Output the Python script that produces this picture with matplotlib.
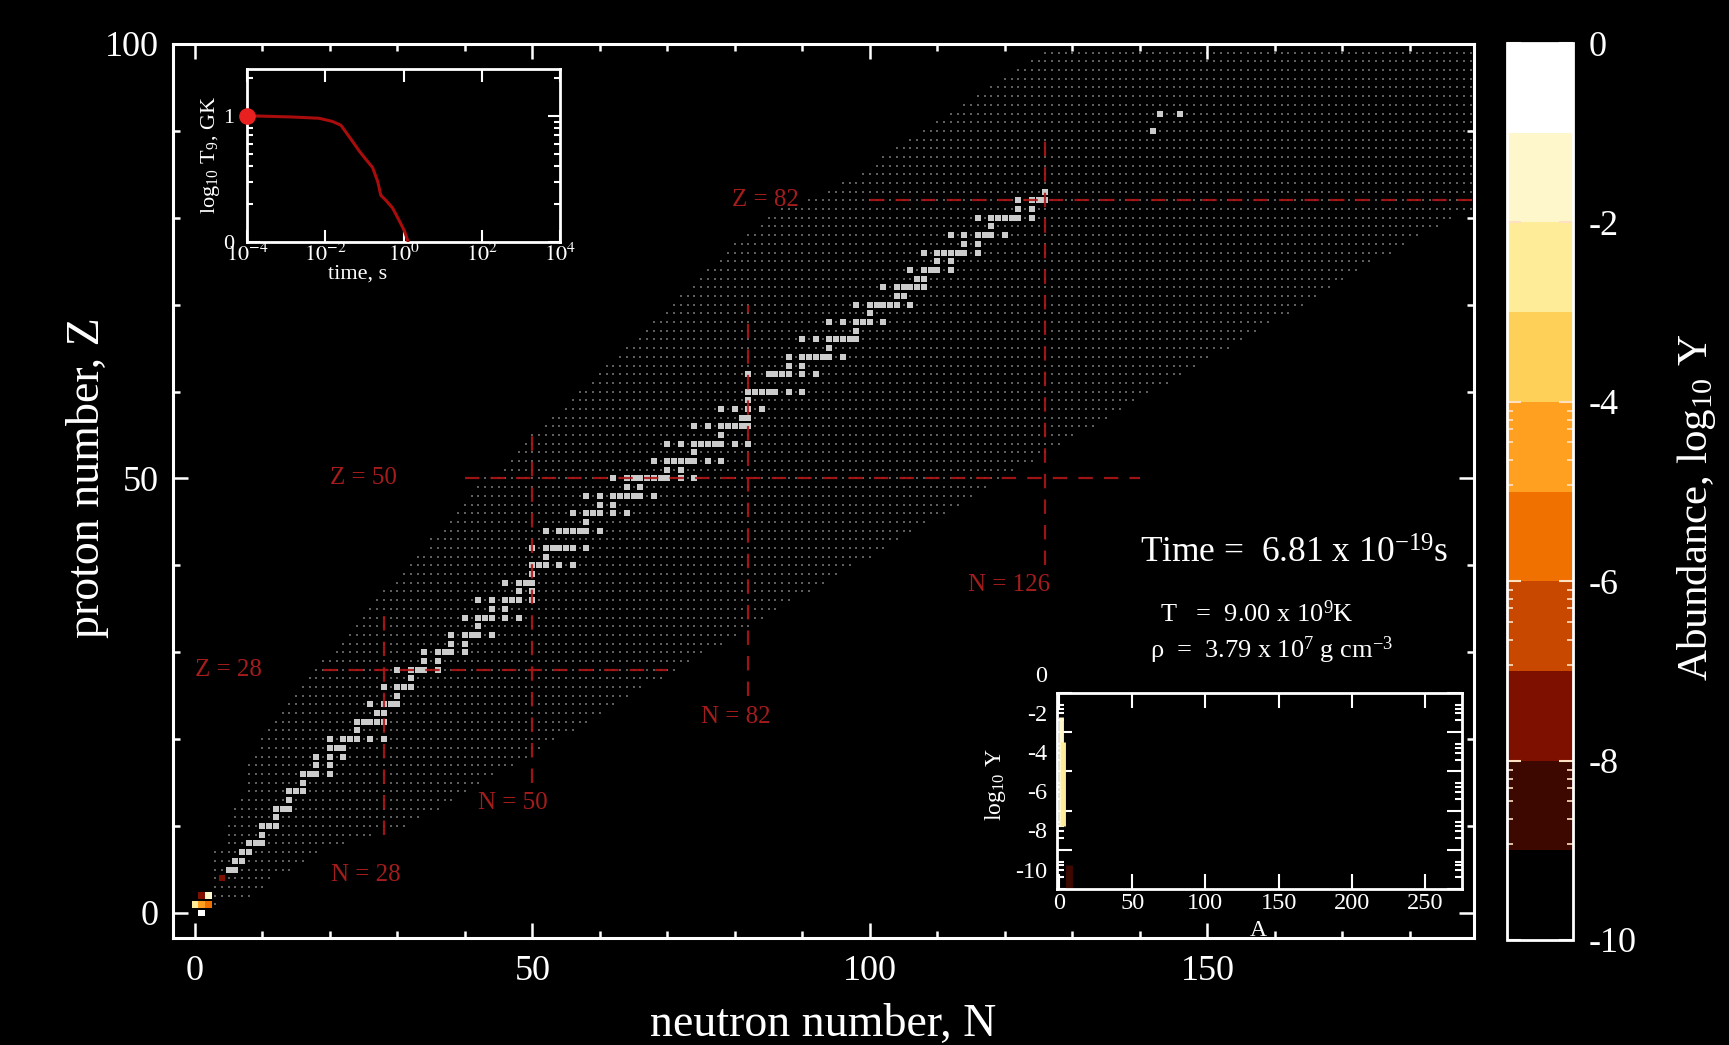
import numpy as np
import matplotlib
matplotlib.use('Agg')
import matplotlib.pyplot as plt
from matplotlib.colors import ListedColormap, BoundaryNorm
from matplotlib.cm import ScalarMappable
from matplotlib.ticker import FixedLocator, NullLocator
import matplotlib.transforms as mtransforms

plt.rcParams['font.family'] = ['Liberation Serif', 'DejaVu Serif']
plt.rcParams['mathtext.fontset'] = 'stix'
plt.rcParams['axes.unicode_minus'] = False

# ---------------- data ----------------
net_Z = list(range(0, 101))
net_Nmin = [1, 0, 1, 3, 3, 3, 3, 3, 5, 5,
            5, 6, 6, 7, 8, 8, 8, 8, 9, 10,
            10, 11, 12, 13, 14, 15, 16, 17, 18, 19,
            21, 22, 23, 24, 25, 26, 27, 28, 30, 31,
            32, 33, 35, 35, 37, 38, 39, 40, 41, 42,
            43, 46, 47, 48, 49, 50, 52, 53, 55, 56,
            57, 59, 60, 61, 63, 64, 66, 67, 68, 70,
            71, 72, 74, 75, 76, 78, 79, 80, 82, 84,
            85, 87, 91, 94, 96, 99, 101, 102, 104, 106,
            108, 110, 112, 114, 116, 118, 120, 122, 124, 126,
            128]
net_Nmax = [1, 3, 8, 10, 11, 14, 16, 18, 22, 26,
            31, 33, 36, 38, 40, 42, 44, 47, 49, 51,
            53, 56, 58, 60, 62, 64, 66, 69, 71, 73,
            75, 78, 80, 82, 84, 86, 88, 91, 93, 95,
            97, 100, 102, 104, 106, 108, 111, 113, 115, 117,
            119, 121, 124, 126, 128, 130, 133, 135, 137, 139,
            141, 144, 146, 148, 150, 153, 155, 157, 159, 162,
            164, 166, 168, 170, 172, 174, 177, 179, 181, 184,
            186, 189, 192, 192, 192, 192, 192, 192, 192, 192,
            192, 192, 192, 192, 192, 192, 192, 192, 192, 192,
            192]

stable_A = {
    1: [1, 2], 2: [3, 4], 5: [10, 11], 6: [12, 13], 7: [14, 15], 8: [16, 17, 18],
    9: [19], 10: [20, 21, 22], 11: [23], 12: [24, 25, 26], 13: [27], 14: [28, 29, 30],
    15: [31], 16: [32, 33, 34, 36], 17: [35, 37], 18: [36, 38, 40], 19: [39, 40, 41],
    20: [40, 42, 43, 44, 46, 48], 21: [45], 22: [46, 47, 48, 49, 50], 23: [50, 51],
    24: [50, 52, 53, 54], 25: [55], 26: [54, 56, 57, 58], 27: [59], 28: [58, 60, 61, 62, 64],
    29: [63, 65], 30: [64, 66, 67, 68, 70], 31: [69, 71], 32: [70, 72, 73, 74, 76], 33: [75],
    34: [74, 76, 77, 78, 80, 82], 35: [79, 81], 36: [78, 80, 82, 83, 84, 86], 37: [85, 87],
    38: [84, 86, 87, 88], 39: [89], 40: [90, 91, 92, 94, 96], 41: [93],
    42: [92, 94, 95, 96, 97, 98, 100], 44: [96, 98, 99, 100, 101, 102, 104], 45: [103],
    46: [102, 104, 105, 106, 108, 110], 47: [107, 109], 48: [106, 108, 110, 111, 112, 113, 114, 116],
    49: [113, 115], 50: [112, 114, 115, 116, 117, 118, 119, 120, 122, 124], 51: [121, 123],
    52: [120, 122, 123, 124, 125, 126, 128, 130], 53: [127],
    54: [124, 126, 128, 129, 130, 131, 132, 134, 136], 55: [133],
    56: [130, 132, 134, 135, 136, 137, 138], 57: [138, 139], 58: [136, 138, 140, 142], 59: [141],
    60: [142, 143, 144, 145, 146, 148, 150], 62: [144, 147, 148, 149, 150, 152, 154], 63: [151, 153],
    64: [152, 154, 155, 156, 157, 158, 160], 65: [159], 66: [156, 158, 160, 161, 162, 163, 164],
    67: [165], 68: [162, 164, 166, 167, 168, 170], 69: [169], 70: [168, 170, 171, 172, 173, 174, 176],
    71: [175, 176], 72: [174, 176, 177, 178, 179, 180], 73: [180, 181], 74: [180, 182, 183, 184, 186],
    75: [185, 187], 76: [184, 186, 187, 188, 189, 190, 192], 77: [191, 193],
    78: [190, 192, 194, 195, 196, 198], 79: [197], 80: [196, 198, 199, 200, 201, 202, 204],
    81: [203, 205], 82: [204, 206, 207, 208], 83: [209], 90: [232], 92: [235, 238],
}

abund_N = [1, 0, 1, 2, 1, 2, 4]
abund_Z = [0, 1, 1, 1, 2, 2, 4]
abund_logY = [-0.4, -2.4, -4.5, -5.4, -7.6, -1.4, -7.5]

magic_h_Z = [28, 50, 82]
magic_h_N0 = [19, 40, 100]
magic_h_N1 = [70, 140, 190]
magic_v_N = [28, 50, 82, 126]
magic_v_Z0 = [9, 15, 25, 40]
magic_v_Z1 = [35, 55, 70, 90]

magic_labels = ['Z = 82', 'Z = 50', 'Z = 28', 'N = 28', 'N = 50', 'N = 82', 'N = 126']
magic_label_N = [79.5, 20, 0, 20.2, 42, 75, 114.5]
magic_label_Z = [82, 50, 28, 4.4, 12.7, 22.6, 37.8]

temp_logt = [-4, -2.85, -2.16, -1.82, -1.60, -1.31, -1.13, -0.95, -0.79, -0.66, -0.58,
             -0.45, -0.28, -0.11, 0.02, 0.11]
temp_logT9 = [1.0, 0.99, 0.98, 0.955, 0.925, 0.80, 0.72, 0.65, 0.59, 0.48, 0.37,
              0.33, 0.27, 0.17, 0.09, 0.01]

inset_A = [1, 2.5, 6.5]
inset_ylo = [-6.8, -6.8, -10]
inset_yhi = [-1.2, -2.5, -8.8]
inset_val = [-1.5, -2.5, -8.5]

cb_bounds = [-10, -9, -8, -7, -6, -5, -4, -3, -2, -1, 0]
cb_colors = ['#000000', '#3c0800', '#7e1000', '#c84800', '#f07000',
             '#ffa020', '#ffd058', '#ffec98', '#fff7cc', '#ffffff']
cb_ticks = [0, -2, -4, -6, -8, -10]

# ---------------- figure ----------------
W, H = 1729, 1045
fig = plt.figure(figsize=(W / 100, H / 100), dpi=100, facecolor='black')


def fax(l, t, r, b):
    return [l / W, 1 - b / H, (r - l) / W, (b - t) / H]


cmap = ListedColormap(cb_colors)
norm = BoundaryNorm(cb_bounds, cmap.N)
mag_color = '#b01616'
lab_color = '#a41c1c'

ax = fig.add_axes(fax(173, 44, 1474, 938))
ax.set_facecolor('black')

dotN, dotZ = [], []
for z, n0, n1 in zip(net_Z, net_Nmin, net_Nmax):
    for n in range(n0, n1 + 1):
        dotN.append(n)
        dotZ.append(z)
ax.scatter(dotN, dotZ, s=2.3, marker='s', c='#5e5e5e', linewidths=0, zorder=1)

sN, sZ = [], []
for z, As in stable_A.items():
    for a in As:
        sN.append(a - z)
        sZ.append(z)
ax.scatter(sN, sZ, s=20, marker='s', c='#cbcbcb', linewidths=0, zorder=2)
ax.scatter(abund_N, abund_Z, s=22, marker='s', c=abund_logY, cmap=cmap, norm=norm,
           linewidths=0, zorder=3)

for z, n0, n1 in zip(magic_h_Z, magic_h_N0, magic_h_N1):
    ax.plot([n0, n1], [z, z], color=mag_color, lw=1.6, dashes=(6.5, 5), alpha=0.9, zorder=4)
for n, z0, z1 in zip(magic_v_N, magic_v_Z0, magic_v_Z1):
    ax.plot([n, n], [z0, z1], color=mag_color, lw=1.6, dashes=(6.5, 5), alpha=0.9, zorder=4)
for t, n, z in zip(magic_labels, magic_label_N, magic_label_Z):
    ax.text(n, z, t, color=lab_color, fontsize=18, ha='left', va='center', zorder=5)

ax.set_xlim(-3.26, 189.5)
ax.set_ylim(-2.88, 100.0)
ax.set_xticks([0, 50, 100, 150])
ax.set_xticks(list(range(0, 190, 10)), minor=True)
ax.set_yticks([0, 50, 100])
ax.set_yticks(list(range(0, 101, 10)), minor=True)
ax.tick_params(which='both', direction='in', colors='white', top=True, right=True, width=1.8)
ax.tick_params(which='major', length=11, labelsize=26)
ax.tick_params(which='minor', length=5)
ax.tick_params(axis='x', pad=12)
ax.tick_params(axis='y', pad=10)
for sp in ax.spines.values():
    sp.set_color('white')
    sp.set_linewidth(2.2)

fig.text(823 / W, 1 - 1025 / H, 'neutron number, N', ha='center', va='center',
         fontsize=33, color='white')
fig.text(88 / W, 1 - 478 / H, 'proton number, Z', ha='center', va='center',
         rotation=90, fontsize=33, color='white')

# state text
fig.text(1140 / W, 1 - 563 / H, r'Time =  6.81 x $\mathregular{10^{-19}}$s', fontsize=25.5,
         color='white', va='baseline')
fig.text(1160 / W, 1 - 622 / H, r'T   =  9.00 x $\mathregular{10^{9}}$K', fontsize=19,
         color='white', va='baseline')
fig.text(1150 / W, 1 - 658 / H, r'ρ  =  3.79 x $\mathregular{10^{7}}$ g $\mathregular{cm^{-3}}$',
         fontsize=19, color='white', va='baseline')

# colorbar
cax = fig.add_axes(fax(1507, 43, 1573, 940))
cb = fig.colorbar(ScalarMappable(norm=norm, cmap=cmap), cax=cax, ticks=cb_ticks)
cb.outline.set_edgecolor('white')
cb.outline.set_linewidth(2)
cb.ax.yaxis.set_minor_locator(FixedLocator(
    [v - f for v in (-4, -6, -8) for f in (0.1, 0.2, 0.3, 0.45, 0.65, 0.93)]))
cax.tick_params(which='both', direction='in', left=True, right=True, colors='#ffe0c0')
cax.tick_params(which='major', length=10, width=1.5, labelsize=26, pad=11, labelcolor='white')
cax.tick_params(which='minor', length=4, width=1.2)
cb.set_ticklabels([str(v) for v in cb_ticks])
fig.text(1696 / W, 1 - 507 / H, r'Abundance, log$_{\mathregular{10}}$ Y', rotation=90,
         ha='center', va='center', fontsize=31, color='white')

# temperature inset
ax2 = fig.add_axes(fax(247, 69, 560, 242))
ax2.set_facecolor('black')
ax2.plot([10.0 ** v for v in temp_logt], temp_logT9, color='#a80c0c', lw=2.2, zorder=3)
ax2.plot([10.0 ** temp_logt[0]], [temp_logT9[0]], 'o', color='#e82020', ms=11,
         clip_on=False, zorder=4)
ax2.set_xscale('log')
ax2.set_xlim(1e-4, 1e4)
ax2.set_ylim(0, 1.37)
ax2.set_xticks([1e-4, 1e-2, 1e0, 1e2, 1e4])
ax2.set_xticklabels([r'$10^{-4}$', r'$10^{-2}$', r'$10^{0}$', r'$10^{2}$', r'$10^{4}$'])
ax2.xaxis.set_minor_locator(NullLocator())
ax2.set_yticks([0, 1])
ax2.set_yticklabels(['0', '1'])
ax2.set_yticks(list(np.log10([2, 3, 4, 5, 6, 7, 8, 9, 20])), minor=True)
ax2.tick_params(which='both', direction='in', colors='white', top=True, right=True, width=1.5)
ax2.tick_params(which='major', length=9, labelsize=16)
ax2.tick_params(axis='x', pad=1)
ax2.tick_params(axis='y', pad=9)
ax2.tick_params(which='minor', length=4)
for sp in ax2.spines.values():
    sp.set_color('white')
    sp.set_linewidth(2)
fig.text(210 / W, 1 - 155 / H, r'log$_{\mathregular{10}}$ T$_{\mathregular{9}}$, GK', rotation=90,
         ha='center', va='center', fontsize=16, color='white')
fig.text(358 / W, 1 - 274 / H, 'time, s', ha='center', va='center', fontsize=16, color='white')

# abundance vs A inset
ax3 = fig.add_axes(fax(1057, 693, 1462, 889))
ax3.set_facecolor('black')
ax3.vlines(inset_A, inset_ylo, inset_yhi, colors=[cmap(norm(v)) for v in inset_val],
           linewidth=[3.5, 3.5, 5])
ax3.set_xlim(-1.4, 275.3)
ax3.set_ylim(-10, 0)
ax3.set_xticks([0, 50, 100, 150, 200, 250])
ax3.set_yticks([0, -2, -4, -6, -8, -10])
ax3.set_yticklabels([])
ax3.set_yticks([v - 2 * (1 - np.log10(k)) for v in (0, -2, -4, -6, -8) for k in (2, 3, 4, 5)],
               minor=True)
ax3.tick_params(which='both', direction='in', colors='white', top=True, right=True, width=1.5)
ax3.tick_params(which='major', length=11, labelsize=17.5, pad=3)
ax3.tick_params(which='minor', length=5)
for sp in ax3.spines.values():
    sp.set_color('white')
    sp.set_linewidth(2)
lab_tr = mtransforms.blended_transform_factory(ax3.transAxes, ax3.transData) + \
    mtransforms.ScaledTranslation(0, 0.17, fig.dpi_scale_trans)
for v in [0, -2, -4, -6, -8, -10]:
    ax3.text(-0.025, v, str(v), transform=lab_tr, ha='right', va='center', fontsize=17.5,
             color='white', clip_on=False)
fig.text(996 / W, 1 - 785 / H, r'log$_{\mathregular{10}}$ Y', rotation=90, ha='center',
         va='center', fontsize=17, color='white')
fig.text(1258 / W, 1 - 931 / H, 'A', ha='center', va='center', fontsize=17, color='white')

fig.savefig('out.png', dpi=100, facecolor='black')
